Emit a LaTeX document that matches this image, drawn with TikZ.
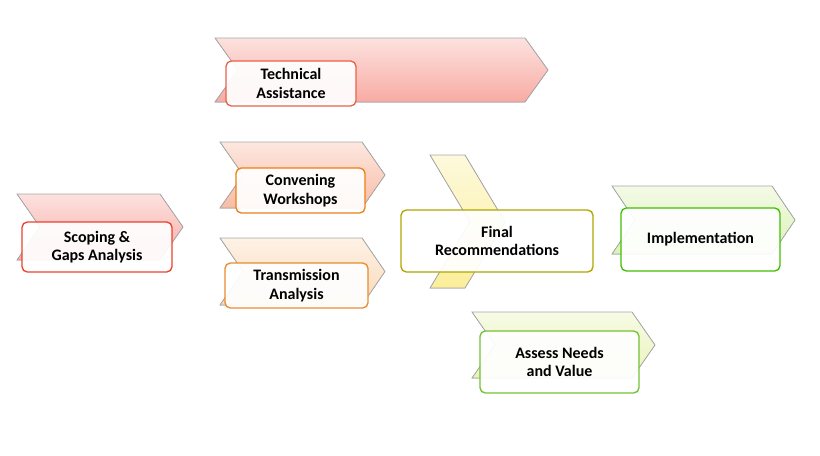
\documentclass[tikz,border=0pt]{standalone}
\usepackage{fontspec}
\setmainfont{Carlito}
\begin{document}
\begin{tikzpicture}[x=0.75pt,y=-0.75pt,
 chev/.style={draw=gray!70,line width=0.6pt},
 box/.style={draw=#1,line width=1pt,rounded corners=4pt,fill=white,fill opacity=0.92,text opacity=1,align=center,font=\bfseries\fontsize{12}{14}\selectfont,inner sep=0pt}]
\useasboundingbox (0,0) rectangle (820,455);
\newcommand\chv[7]{% name x1 x2 y1 y2 depth colours
 \fill[top color=#6!35!white,bottom color=#6] (#2,#4) -- (#3,#4) -- ({#3+#7},{(#4+#5)/2}) -- (#3,#5) -- (#2,#5) -- ({#2+#7},{(#4+#5)/2}) -- cycle;
 \draw[chev] (#2,#4) -- (#3,#4) -- ({#3+#7},{(#4+#5)/2}) -- (#3,#5) -- (#2,#5) -- ({#2+#7},{(#4+#5)/2}) -- cycle;}
\definecolor{pk}{HTML}{F8ABA3}
\definecolor{sa}{HTML}{F9BCA5}
\definecolor{pe}{HTML}{FBD9B8}
\definecolor{ye}{HTML}{FBEE9A}
\definecolor{gr}{HTML}{DDF2B8}
\definecolor{yg}{HTML}{EAF3B8}
\chv{t}{215}{525}{38}{102}{pk}{23}
\chv{c}{220}{362}{142}{208}{sa}{23}
\chv{r}{220}{362}{238}{305}{pe}{23}
\chv{s}{17}{160}{194}{260}{pk}{23}
\chv{i}{612}{772}{186}{254}{gr}{23}
\chv{a}{472}{632}{312}{378}{yg}{23}
\fill[top color=ye!35!white,bottom color=ye] (430,155) -- (465,155) -- (505,222) -- (465,288) -- (430,288) -- (470,222) -- cycle;
\draw[chev] (430,155) -- (465,155) -- (505,222) -- (465,288) -- (430,288) -- (470,222) -- cycle;
\node[box=red!55!brown!80,minimum width=130*0.75pt,minimum height=45*0.75pt] (T) at (291,83.5) {Technical\\Assistance};
\node[box=orange!70!brown,minimum width=129*0.75pt,minimum height=45*0.75pt] (C) at (300.5,190.5) {Convening\\Workshops};
\node[box=orange!60!brown!90,minimum width=143*0.75pt,minimum height=45*0.75pt] (R) at (296.5,285.5) {Transmission\\Analysis};
\node[box=red!65!brown!90,minimum width=150*0.75pt,minimum height=50*0.75pt] (S) at (97,247) {Scoping \&\\Gaps Analysis};
\node[box=olive!70!yellow,minimum width=192*0.75pt,minimum height=62*0.75pt] (F) at (497,241) {Final\\Recommendations};
\node[box=green!50!olive,minimum width=159*0.75pt,minimum height=63*0.75pt] (I) at (700.5,239.5) {Implementation};
\node[box=green!40!olive!80,minimum width=159*0.75pt,minimum height=62*0.75pt] (A) at (559.5,362) {Assess Needs\\and Value};
\end{tikzpicture}
\end{document}
